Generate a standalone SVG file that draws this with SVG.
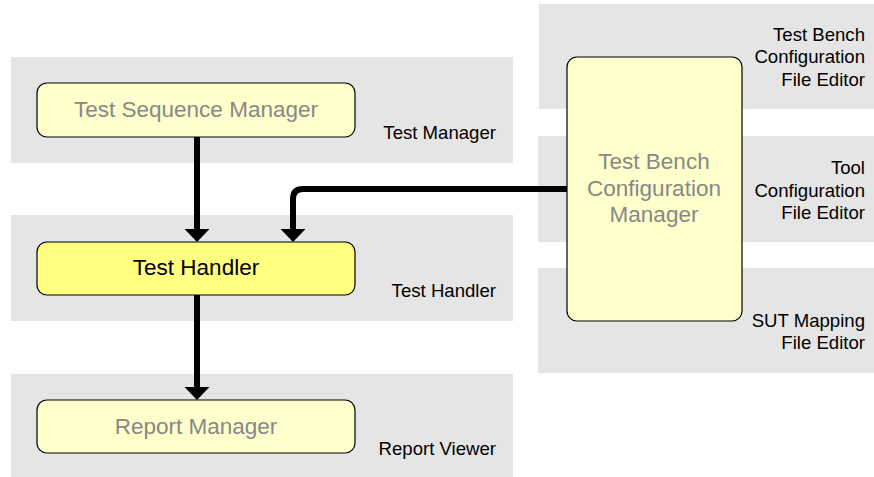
<svg xmlns="http://www.w3.org/2000/svg" width="874" height="477" viewBox="0 0 874 477">
  <style>
    .panel { fill: #e5e5e5; }
    .box { fill: #ffffcc; stroke: #000; stroke-width: 1.2; }
    .box.active { fill: #ffff80; }
    .name { font-family: "Liberation Sans", Arial, sans-serif; font-size: 22.5px; fill: #888; text-anchor: middle; }
    .name.active { fill: #000; }
    .label { font-family: "Liberation Sans", Arial, sans-serif; font-size: 18.6px; fill: #000; text-anchor: end; }
    .wire { fill: none; stroke: #000; stroke-width: 6; }
  </style>
  <defs>
    <!-- filled arrowhead whose base sits at the end of the wire -->
    <marker id="head" viewBox="0 0 13 25" refX="0" refY="12.5" markerWidth="13" markerHeight="25" markerUnits="userSpaceOnUse" orient="auto">
      <path d="M0,0 L13,12.5 L0,25 Z" fill="#000"/>
    </marker>
  </defs>

  <!-- application panels -->
  <g id="panel-test-manager">
    <rect class="panel" x="11" y="57" width="502" height="106"/>
    <text class="label" x="496" y="139">Test Manager</text>
  </g>
  <g id="panel-test-handler">
    <rect class="panel" x="11" y="215" width="502" height="106"/>
    <text class="label" x="496" y="297">Test Handler</text>
  </g>
  <g id="panel-report-viewer">
    <rect class="panel" x="11" y="374" width="502" height="103"/>
    <text class="label" x="496" y="455">Report Viewer</text>
  </g>
  <g id="panel-bench-editor">
    <rect class="panel" x="539" y="4" width="335" height="105"/>
    <text class="label" x="865" y="41">Test Bench</text>
    <text class="label" x="865" y="63">Configuration</text>
    <text class="label" x="865" y="86">File Editor</text>
  </g>
  <g id="panel-tool-editor">
    <rect class="panel" x="538" y="136" width="336" height="106"/>
    <text class="label" x="865" y="174">Tool</text>
    <text class="label" x="865" y="197">Configuration</text>
    <text class="label" x="865" y="219">File Editor</text>
  </g>
  <g id="panel-sut-editor">
    <rect class="panel" x="538" y="268" width="336" height="105"/>
    <text class="label" x="865" y="327">SUT Mapping</text>
    <text class="label" x="865" y="349">File Editor</text>
  </g>

  <!-- connectors -->
  <g id="connectors">
    <path class="wire" d="M197,137 V229" marker-end="url(#head)"/>
    <path class="wire" d="M197,295 V387" marker-end="url(#head)"/>
    <path class="wire" d="M567,189 H303 Q293,189 293,199 V229" marker-end="url(#head)"/>
  </g>

  <!-- components -->
  <g id="test-sequence-manager">
    <rect class="box" x="37" y="83" width="318" height="54" rx="10"/>
    <text class="name" x="196" y="117">Test Sequence Manager</text>
  </g>
  <g id="test-handler">
    <rect class="box active" x="37" y="242" width="318" height="53" rx="10"/>
    <text class="name active" x="196" y="275">Test Handler</text>
  </g>
  <g id="report-manager">
    <rect class="box" x="37" y="400" width="318" height="53" rx="10"/>
    <text class="name" x="196" y="434">Report Manager</text>
  </g>
  <g id="test-bench-configuration-manager">
    <rect class="box" x="567" y="57" width="175" height="264" rx="10"/>
    <text class="name" x="654" y="169">Test Bench</text>
    <text class="name" x="654" y="196">Configuration</text>
    <text class="name" x="654" y="222">Manager</text>
  </g>
</svg>
